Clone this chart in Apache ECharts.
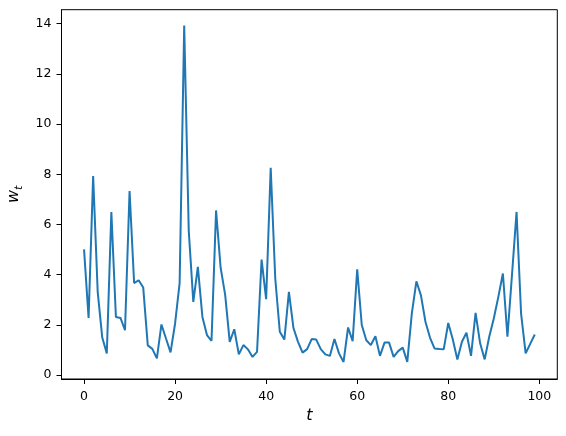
<!DOCTYPE html>
<html>
<head>
<meta charset="utf-8">
<title>w_t</title>
<script src="https://cdn.jsdelivr.net/npm/echarts@6/dist/echarts.min.js"></script>
<style>
    html, body { margin: 0; padding: 0; background: #fff; }
    #chart { width: 566px; height: 436px; }
</style>
</head>
<body>
<div id="chart"></div>
<script>
// values, t = 0..99
var wValues = [
    5.01, 2.28, 7.93, 3.32, 1.50, 0.87, 6.50, 2.32, 2.28, 1.79,
    7.33, 3.67, 3.78, 3.49, 1.19, 1.05, 0.67, 2.02, 1.46, 0.91,
    2.06, 3.68, 13.92, 5.75, 2.92, 4.31, 2.32, 1.60, 1.37, 6.56,
    4.28, 3.20, 1.33, 1.83, 0.83, 1.20, 1.03, 0.73, 0.93, 4.60,
    3.03, 8.26, 3.85, 1.73, 1.42, 3.32, 1.88, 1.33, 0.90, 1.04,
    1.44, 1.42, 1.04, 0.83, 0.77, 1.44, 0.87, 0.53, 1.90, 1.36,
    4.22, 2.00, 1.39, 1.20, 1.55, 0.77, 1.30, 1.30, 0.73, 0.96,
    1.10, 0.53, 2.46, 3.74, 3.18, 2.12, 1.49, 1.06, 1.04, 1.03,
    2.08, 1.42, 0.63, 1.33, 1.69, 0.77, 2.48, 1.27, 0.63, 1.53,
    2.26, 3.12, 4.05, 1.53, 4.00, 6.50, 2.44, 0.87, 1.25, 1.62
];
var xTicks = [0, 20, 40, 60, 80, 100];
var yTicks = [0, 2, 4, 6, 8, 10, 12, 14];

var chart = echarts.init(document.getElementById('chart'), null, { renderer: 'canvas' });

var points = [];
for (var i = 0; i < wValues.length; i++) {
    points.push([i, wValues[i]]);
}

var font = 'DejaVu Sans';

var option = {
    animation: false,
    backgroundColor: '#fff',
    grid: {
        left: 61.5,
        top: 9.7,
        right: 8.7,
        bottom: 57,
        containLabel: false,
        outerBoundsMode: 'none',
        show: true,
        borderColor: '#000',
        borderWidth: 1,
        backgroundColor: 'transparent'
    },
    xAxis: {
        type: 'value',
        min: -4.95,
        max: 103.95,
        name: 't',
        nameLocation: 'middle',
        nameGap: 28,
        nameTextStyle: {
            fontFamily: font,
            fontStyle: 'italic',
            fontSize: 16,
            color: '#000'
        },
        axisLine: { show: true, onZero: false, lineStyle: { color: '#000', width: 1 } },
        axisTick: {
            show: true,
            length: 5,
            customValues: xTicks,
            lineStyle: { color: '#000', width: 1 }
        },
        axisLabel: {
            customValues: xTicks,
            margin: 11,
            fontFamily: font,
            fontSize: 12.5,
            color: '#000'
        },
        splitLine: { show: false }
    },
    yAxis: {
        type: 'value',
        min: -0.15,
        max: 14.55,
        name: '{w|w}{s|t}',
        nameLocation: 'middle',
        nameGap: 31,
        nameTextStyle: {
            rich: {
                w: {
                    fontFamily: font,
                    fontStyle: 'italic',
                    fontSize: 16,
                    lineHeight: 22,
                    verticalAlign: 'middle',
                    color: '#000'
                },
                s: {
                    fontFamily: font,
                    fontStyle: 'italic',
                    fontSize: 11,
                    lineHeight: 11,
                    verticalAlign: 'bottom',
                    color: '#000'
                }
            }
        },
        axisLine: { show: true, onZero: false, lineStyle: { color: '#000', width: 1 } },
        axisTick: {
            show: true,
            length: 5,
            customValues: yTicks,
            lineStyle: { color: '#000', width: 1 }
        },
        axisLabel: {
            customValues: yTicks,
            margin: 10,
            fontFamily: font,
            fontSize: 12.5,
            color: '#000'
        },
        splitLine: { show: false }
    },
    series: [{
        name: 'w_t',
        type: 'line',
        data: points,
        showSymbol: false,
        symbol: 'none',
        lineStyle: { color: '#1f77b4', width: 2 },
        itemStyle: { color: '#1f77b4' }
    }]
};

chart.setOption(option);
</script>
</body>
</html>
